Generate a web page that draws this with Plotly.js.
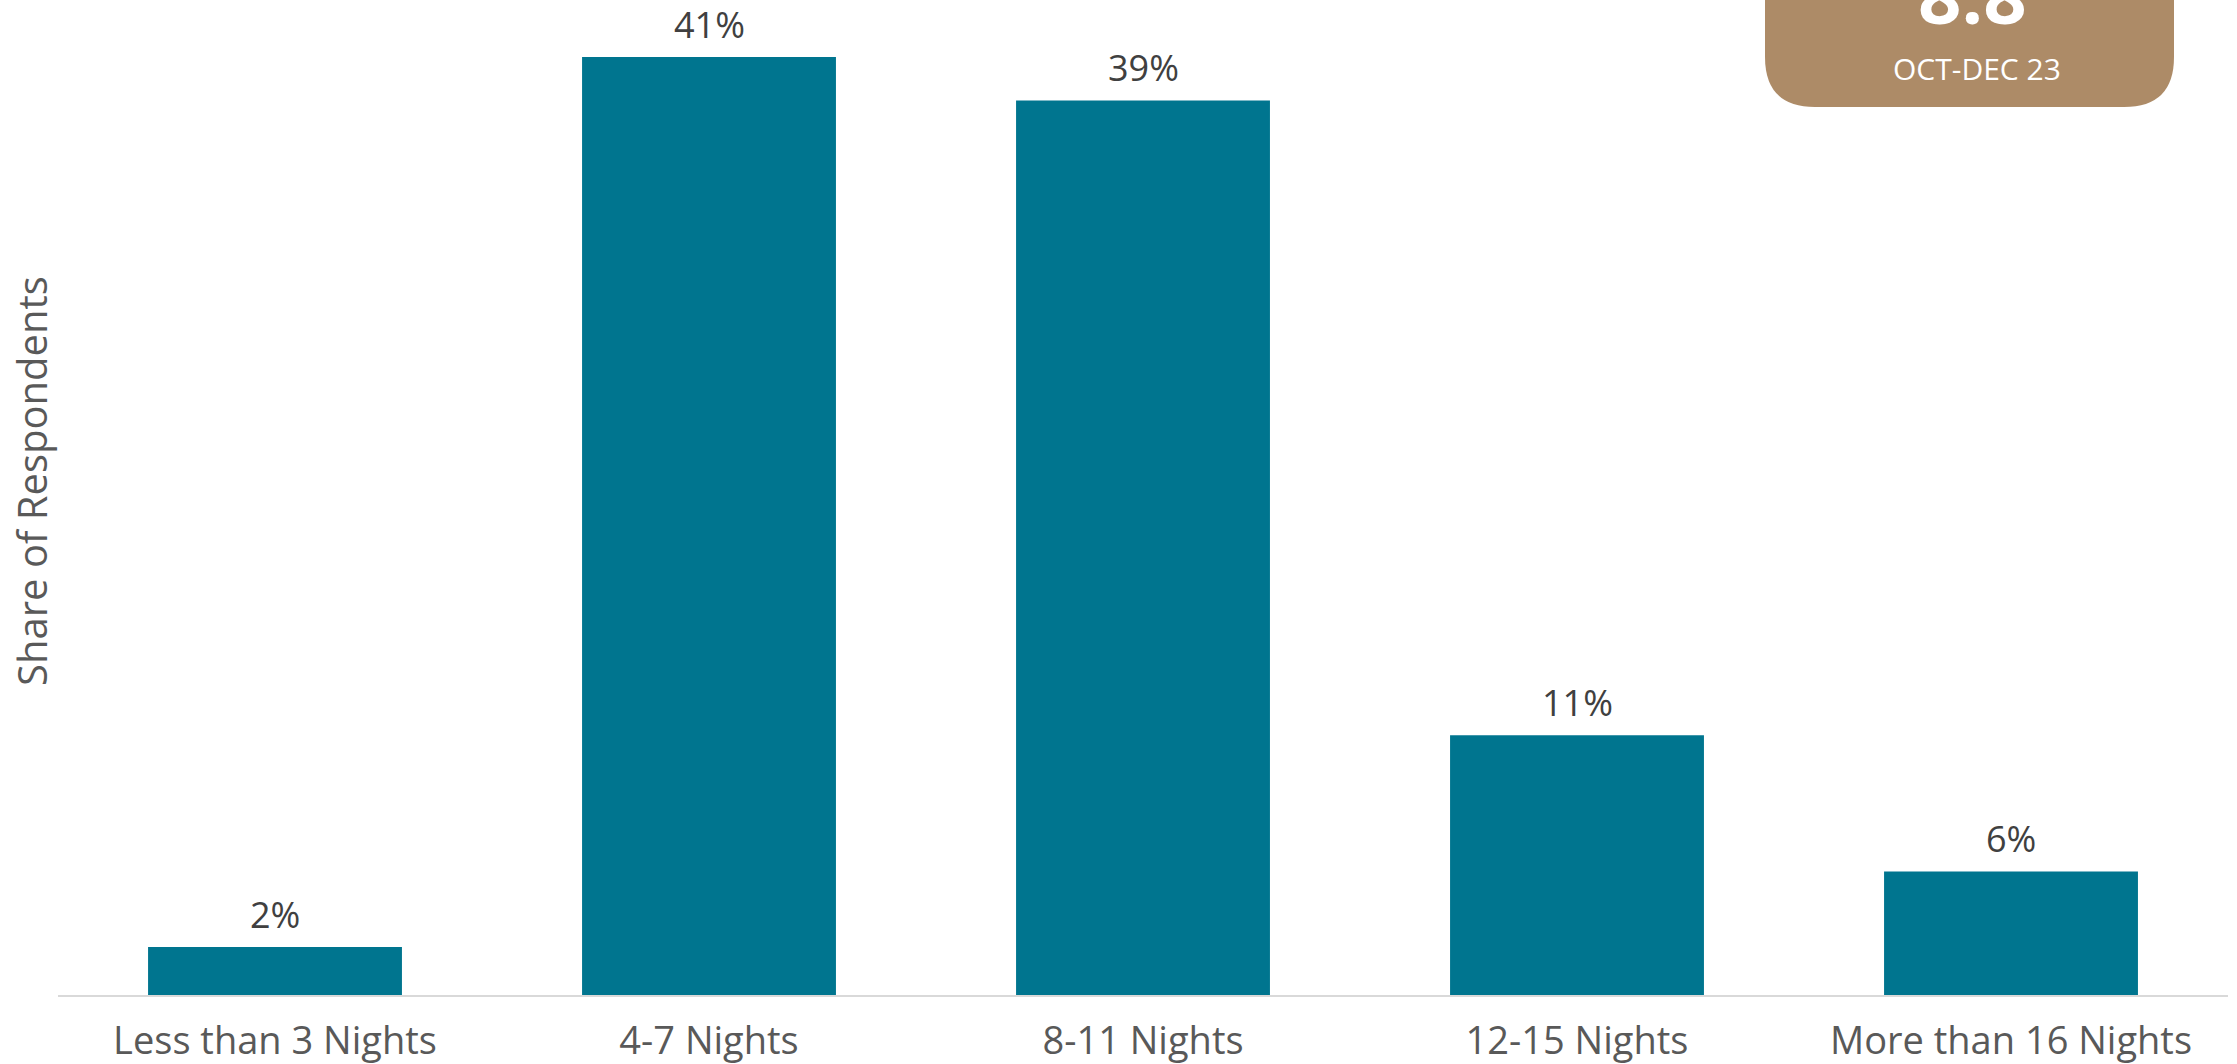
<!DOCTYPE html>
<html>
<head>
<meta charset="utf-8">
<script src="https://cdn.plot.ly/plotly-3.0.1.min.js"></script>
<style>
  html, body { margin: 0; padding: 0; background: #ffffff; }
  #chart { width: 2237px; height: 1064px; }
</style>
</head>
<body>
<div id="chart"></div>
<script>
// Data
const categories = ["Less than 3 Nights", "4-7 Nights", "8-11 Nights", "12-15 Nights", "More than 16 Nights"];
const shares = [2.1, 41.0, 39.1, 11.35, 5.4];
const shareLabels = ["2%", "41%", "39%", "11%", "6%"];
const yAxisTitle = "Share of Respondents";
const badgeValue = "8.8";
const badgePeriod = "OCT-DEC 23";

const FONT = "'Open Sans', sans-serif";
const W = 2237, H = 1064;
const mL = 58, mR = 9, mT = 0, mB = 69;
const plotW = W - mL - mR, plotH = H - mT - mB;

// helpers to convert pixel positions to paper fractions (badge / title placement only)
const px = x => (x - mL) / plotW;
const py = y => (H - mB - y) / plotH;

// Rounded badge (bottom corners rounded, top cut off by page edge as in the reference)
const bx0 = 1765, bx1 = 2174, by0 = -60, by1 = 107, r = 50;
const badgePath =
  `M ${px(bx0)},${py(by0)} ` +
  `L ${px(bx0)},${py(by1 - r)} ` +
  `Q ${px(bx0)},${py(by1)} ${px(bx0 + r)},${py(by1)} ` +
  `L ${px(bx1 - r)},${py(by1)} ` +
  `Q ${px(bx1)},${py(by1)} ${px(bx1)},${py(by1 - r)} ` +
  `L ${px(bx1)},${py(by0)} Z`;

const trace = {
  type: "bar",
  x: categories,
  y: shares,
  marker: { color: "#00758F", line: { width: 0 } },
  hoverinfo: "x+y"
};

// value labels above bars, built from the data arrays
const valueAnnotations = categories.map((c, i) => ({
  x: c, y: shares[i], xref: "x", yref: "y",
  text: shareLabels[i], showarrow: false,
  xanchor: "center", yanchor: "bottom", yshift: 6,
  font: { family: FONT, size: 36, color: "#404040" }
}));

const layout = {
  width: W, height: H,
  margin: { l: mL, r: mR, t: mT, b: mB, pad: 0 },
  paper_bgcolor: "#ffffff",
  plot_bgcolor: "#ffffff",
  showlegend: false,
  bargap: 0.415,
  font: { family: FONT, color: "#595959" },
  xaxis: {
    type: "category",
    range: [-0.5, 4.5],
    showline: true, linecolor: "#d9d9d9", linewidth: 2,
    showgrid: false, zeroline: false,
    ticks: "", ticklabelstandoff: 11,
    tickfont: { family: FONT, size: 38, color: "#595959" },
    fixedrange: true
  },
  yaxis: {
    range: [0, 43.49],
    showline: false, showgrid: false, zeroline: false,
    showticklabels: false, ticks: "",
    fixedrange: true
  },
  shapes: [{
    type: "path", xref: "paper", yref: "paper",
    path: badgePath,
    fillcolor: "#AD8B67", line: { width: 0 }, layer: "above"
  }],
  annotations: valueAnnotations.concat([
    {
      xref: "paper", yref: "paper",
      x: px(31), y: py(481),
      text: yAxisTitle, textangle: -90, showarrow: false,
      xanchor: "center", yanchor: "middle",
      font: { family: FONT, size: 40, color: "#595959" }
    },
    {
      xref: "paper", yref: "paper",
      x: px(1972), y: py(-6),
      text: "<b>" + badgeValue + "</b>", showarrow: false,
      xanchor: "center", yanchor: "middle",
      font: { family: FONT, size: 76, color: "#ffffff" }
    },
    {
      xref: "paper", yref: "paper",
      x: px(1977), y: py(68),
      text: badgePeriod, showarrow: false,
      xanchor: "center", yanchor: "middle",
      font: { family: FONT, size: 30, color: "#ffffff" }
    }
  ])
};

Plotly.newPlot("chart", [trace], layout, { displayModeBar: false, staticPlot: true });
</script>
</body>
</html>
